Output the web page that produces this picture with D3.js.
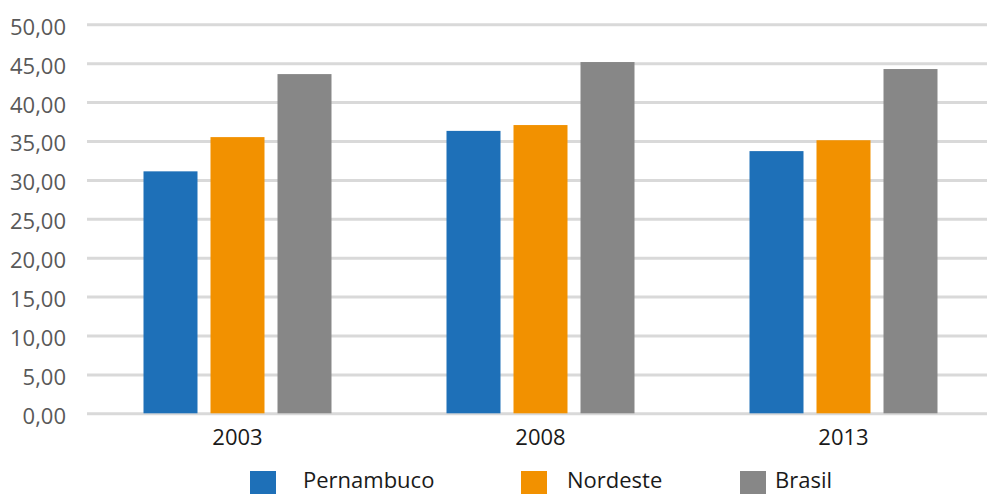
<!DOCTYPE html>
<html>
<head>
<meta charset="utf-8">
<script src="https://cdn.jsdelivr.net/npm/d3@7"></script>
<style>
  html, body { margin: 0; padding: 0; background: #fff; }
  svg { display: block; font-family: 'Open Sans', sans-serif; }
</style>
</head>
<body>
<svg id="graphic" width="987" height="494"></svg>
<script>
const years = ['2003', '2008', '2013'];
const seriesNames = ['Pernambuco', 'Nordeste', 'Brasil'];
const pernambuco = [31.1, 36.3, 33.7];
const nordeste = [35.5, 37.05, 35.1];
const brasil = [43.6, 45.15, 44.25];
const yTicks = [0, 5, 10, 15, 20, 25, 30, 35, 40, 45, 50];

const colors = ['#1e70b8', '#f29100', '#878787'];
const seriesValues = [pernambuco, nordeste, brasil];

const rows = years.map((yr, i) => ({
  year: yr,
  values: seriesNames.map((s, j) => ({ name: s, value: seriesValues[j][i] })),
}));

const svg = d3.select('#graphic');

const xScale = d3.scaleBand()
    .domain(years)
    .range([86, 995]);

const groupW = 188;
const inner = d3.scaleBand()
    .domain(seriesNames)
    .range([(xScale.bandwidth() - groupW) / 2, (xScale.bandwidth() + groupW) / 2])
    .paddingInner(0.194);

const yScale = d3.scaleLinear()
    .domain([0, 50])
    .range([413.3, 24.3]);

const fmt = (d) => d3.format('.2f')(d).replace('.', ',');

// grid + y labels
const yAxis = d3.axisLeft(yScale)
    .tickValues(yTicks)
    .tickSize(-900)
    .tickPadding(21)
    .tickFormat(fmt);

const gy = svg.append('g')
    .attr('transform', 'translate(87,0)')
    .call(yAxis);
gy.select('.domain').remove();
gy.selectAll('.tick line')
    .attr('stroke', '#d9d9d9')
    .attr('stroke-width', 3);
gy.selectAll('.tick text')
    .attr('fill', '#595959')
    .attr('font-size', 22)
    .attr('font-family', "'Open Sans', sans-serif")
    .attr('dy', '0.45em');

// bars
const groups = svg.selectAll('.group')
    .data(rows)
    .enter()
    .append('g')
    .classed('group', true)
    .attr('transform', (d) => `translate(${xScale(d.year)},0)`);

groups.selectAll('rect')
    .data((d) => d.values)
    .enter()
    .append('rect')
    .attr('x', (d) => inner(d.name))
    .attr('width', inner.bandwidth())
    .attr('y', (d) => yScale(d.value))
    .attr('height', (d) => yScale(0) - yScale(d.value))
    .attr('fill', (d, i) => colors[i]);

// x labels
const xAxis = d3.axisBottom(xScale).tickSize(0);
const gx = svg.append('g')
    .attr('transform', `translate(0,${yScale(0)})`)
    .call(xAxis);
gx.select('.domain').remove();
gx.selectAll('.tick text')
    .attr('fill', '#1a1a1a')
    .attr('font-size', 22)
    .attr('font-family', "'Open Sans', sans-serif")
    .attr('dy', null)
    .attr('y', 32);

// legend
const legendX = [250, 521, 740];
const legend = svg.selectAll('.legend')
    .data(seriesNames)
    .enter()
    .append('g')
    .classed('legend', true)
    .attr('transform', (d, i) => `translate(${legendX[i]},471)`);

legend.append('rect')
    .attr('width', 26)
    .attr('height', 26)
    .attr('fill', (d, i) => colors[i]);

legend.append('text')
    .attr('x', (d, i) => (i === 0 ? 53 : i === 1 ? 46 : 35))
    .attr('y', 17)
    .attr('font-size', 22)
    .attr('fill', '#1a1a1a')
    .text((d) => d);
</script>
</body>
</html>
